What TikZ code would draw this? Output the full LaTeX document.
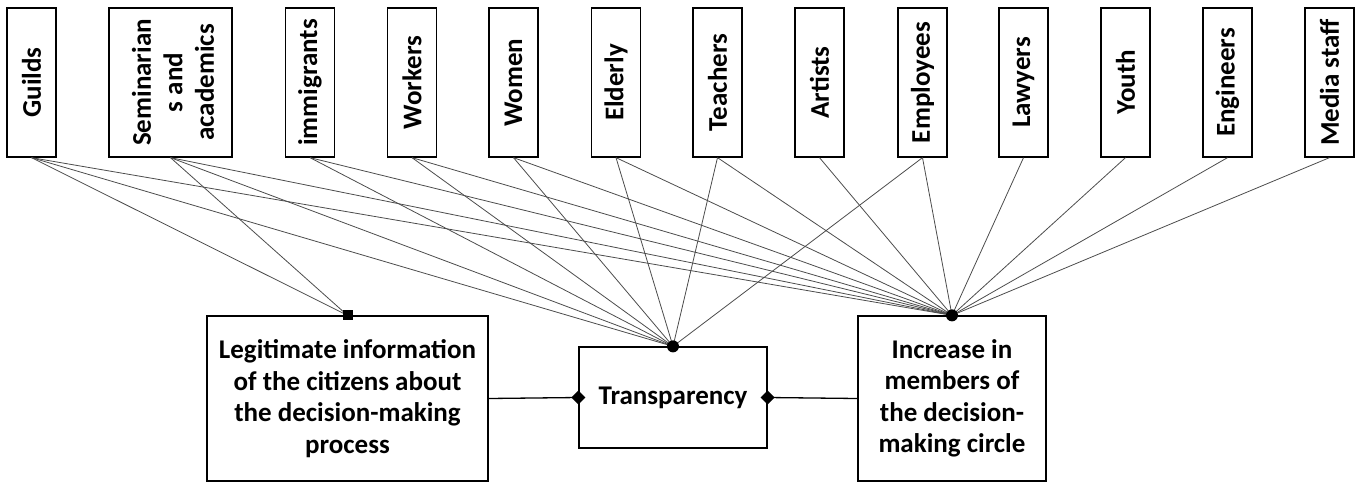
\documentclass[tikz,border=0pt]{standalone}
\usepackage{fontspec}
\setmainfont{Carlito}
\begin{document}
\begin{tikzpicture}[x=1pt,y=-1pt,
  txt/.style={font=\fontsize{27}{31.5}\selectfont\bfseries, align=center, inner sep=0pt},
  box/.style={txt, draw, line width=1.3pt},
  topbox/.style={box, minimum width=49pt, minimum height=149pt},
  link/.style={draw=black!70, line width=0.8pt},
  bar/.style={draw, line width=1.3pt},
]
\useasboundingbox (0,0) rectangle (1360,482);
% top boxes
\node[topbox] (guilds) at (31.5,82.5) {\rotatebox{90}{Guilds}};
\node[topbox, minimum width=123pt] (sem) at (170.5,82.5) {};
\node[txt, rotate=90] (semtext) at ([xshift=2.5pt]sem.center) {Seminarian\\s and\\academics};
\node[topbox] (imm) at (310,82.5) {\rotatebox{90}{immigrants}};
\node[topbox] (workers) at (412,82.5) {\rotatebox{90}{Workers}};
\node[topbox] (women) at (513.5,82.5) {\rotatebox{90}{Women}};
\node[topbox] (elderly) at (616,82.5) {\rotatebox{90}{Elderly}};
\node[topbox] (teachers) at (717.5,82.5) {\rotatebox{90}{Teachers}};
\node[topbox] (artists) at (819.5,82.5) {\rotatebox{90}{Artists}};
\node[topbox] (employees) at (922.5,82.5) {\rotatebox{90}{Employees}};
\node[topbox] (lawyers) at (1023.5,82.5) {\rotatebox{90}{Lawyers}};
\node[topbox] (youth) at (1125.5,82.5) {\rotatebox{90}{Youth}};
\node[topbox] (engineers) at (1227.5,82.5) {\rotatebox{90}{Engineers}};
\node[topbox] (media) at (1329.5,82.5) {\rotatebox{90}{Media staff}};
% bottom boxes
\node[box, minimum width=281pt, minimum height=165pt] (legit) at (347.5,398.5)
  {Legitimate information\\of the citizens about\\the decision-making\\process};
\node[box, minimum width=188pt, minimum height=101pt] (trans) at (673,397.5) {Transparency};
\node[box, minimum width=188pt, minimum height=165pt] (inc) at (952,398.5)
  {Increase in\\members of\\the decision-\\making circle};
% fan lines
\foreach \s in {guilds,sem} \draw[link] (\s.south) -- (legit.north);
\foreach \s in {guilds,sem,imm,workers,women,elderly,teachers,employees} \draw[link] (\s.south) -- (trans.north);
\foreach \s in {guilds,sem,imm,workers,women,elderly,teachers,artists,employees,lawyers,youth,engineers,media} \draw[link] (\s.south) -- (inc.north);
% horizontal links
\draw[bar] (legit.east) -- (trans.west);
\draw[bar] (trans.east) -- (inc.west);
% markers
\fill (legit.north) ++(-5,-5) rectangle ++(10,10);
\fill (trans.north) circle (6);
\fill (inc.north) circle (6);
\fill (trans.west) ++(-7,0) -- ++(7,-7) -- ++(7,7) -- ++(-7,7) -- cycle;
\fill (trans.east) ++(-7,0) -- ++(7,-7) -- ++(7,7) -- ++(-7,7) -- cycle;
\end{tikzpicture}
\end{document}
